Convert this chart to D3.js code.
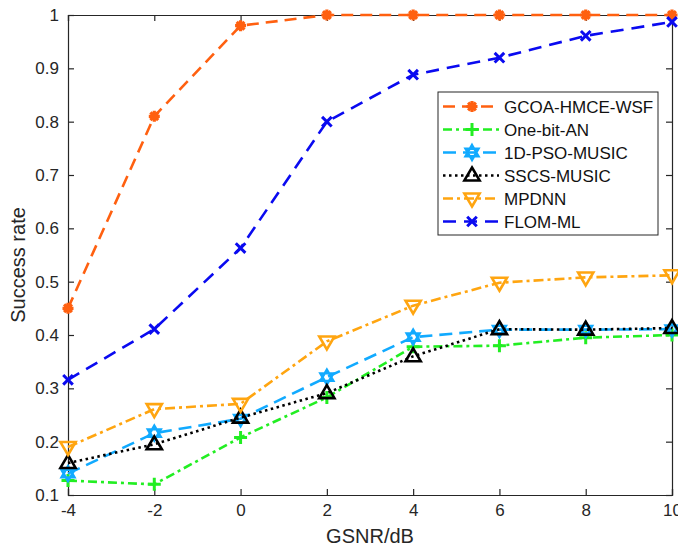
<!DOCTYPE html>
<html>
<head>
<meta charset="utf-8">
<script src="https://cdn.jsdelivr.net/npm/d3@7"></script>
<style>
  html, body { margin: 0; padding: 0; background: #fff; }
  svg { display: block; font-family: "Liberation Sans", Arial, sans-serif; }
</style>
</head>
<body>
<svg id="chart" width="678" height="548"></svg>
<script>
// GSNR sweep (dB) and success rate of each estimator
const gsnr = [-4, -2, 0, 2, 4, 6, 8, 10];
const gcoaHmceWsf = [0.45, 0.81, 0.98, 1.0, 1.0, 1.0, 1.0, 1.0];
const oneBitAn    = [0.127, 0.12, 0.208, 0.283, 0.378, 0.38, 0.395, 0.40];
const pso1dMusic  = [0.14, 0.216, 0.243, 0.321, 0.396, 0.41, 0.41, 0.411];
const sscsMusic   = [0.16, 0.195, 0.245, 0.291, 0.36, 0.411, 0.41, 0.413];
const mpdnn       = [0.19, 0.261, 0.271, 0.388, 0.455, 0.498, 0.508, 0.512];
const flomMl      = [0.316, 0.411, 0.563, 0.80, 0.888, 0.92, 0.961, 0.987];

const xTicks = [-4, -2, 0, 2, 4, 6, 8, 10];
const yTicks = [0.1, 0.2, 0.3, 0.4, 0.5, 0.6, 0.7, 0.8, 0.9, 1];
const xTickLabels = ["-4", "-2", "0", "2", "4", "6", "8", "10"];
const yTickLabels = ["0.1", "0.2", "0.3", "0.4", "0.5", "0.6", "0.7", "0.8", "0.9", "1"];

const seriesNames = ["GCOA-HMCE-WSF", "One-bit-AN", "1D-PSO-MUSIC", "SSCS-MUSIC", "MPDNN", "FLOM-ML"];
const seriesValues = [gcoaHmceWsf, oneBitAn, pso1dMusic, sscsMusic, mpdnn, flomMl];
const seriesColors = ["#ff6010", "#22ee22", "#11aaff", "#000000", "#ffa510", "#0a0af0"];
const seriesDash = ["12,7", "9,4,3,4", "13,7", "2.5,3.5", "10,4,3,4", "13,8"];
const seriesMarker = ["asterisk", "plus", "hexagram", "triUp", "triDown", "cross"];

const svg = d3.select("#chart");
const plotLeft = 68, plotRight = 672, plotTop = 15, plotBottom = 495;

const x = d3.scaleLinear().domain([-4, 10]).range([plotLeft, plotRight]);
const y = d3.scaleLinear().domain([0.1, 1]).range([plotBottom, plotTop]);

const axisColor = "#262626";
const g = svg.append("g");

// Axes with inward ticks on all four sides
const tickLen = 6;
const axB = d3.axisBottom(x).tickValues(xTicks).tickSize(-tickLen).tickPadding(9)
  .tickFormat((d, i) => xTickLabels[i]);
const axT = d3.axisTop(x).tickValues(xTicks).tickSize(-tickLen).tickFormat("");
const axL = d3.axisLeft(y).tickValues(yTicks).tickSize(-tickLen).tickPadding(9)
  .tickFormat((d, i) => yTickLabels[i]);
const axR = d3.axisRight(y).tickValues(yTicks).tickSize(-tickLen).tickFormat("");

function styleAxis(sel) {
  sel.select(".domain").attr("stroke", axisColor).attr("stroke-width", 1.2);
  sel.selectAll(".tick line").attr("stroke", axisColor).attr("stroke-width", 1.2);
  sel.selectAll(".tick text").attr("fill", axisColor).style("font-size", "17px")
    .style("font-family", "'Liberation Sans', Arial, sans-serif");
}
g.append("g").attr("transform", `translate(0,${plotBottom})`).call(axB).call(styleAxis);
g.append("g").attr("transform", `translate(0,${plotTop})`).call(axT).call(styleAxis);
g.append("g").attr("transform", `translate(${plotLeft},0)`).call(axL).call(styleAxis);
g.append("g").attr("transform", `translate(${plotRight},0)`).call(axR).call(styleAxis);

// Axis titles
svg.append("text").attr("x", (plotLeft + plotRight) / 2).attr("y", 543)
  .attr("text-anchor", "middle").attr("fill", axisColor).style("font-size", "20px").text("GSNR/dB");
svg.append("text").attr("transform", `translate(25,${(plotTop + plotBottom) / 2 + 10}) rotate(-90)`)
  .attr("text-anchor", "middle").attr("fill", axisColor).style("font-size", "20px").text("Success rate");

// Marker shapes, centred on the origin
function markerPath(type) {
  const p = d3.path();
  if (type === "asterisk") {
    const r = 5.5;
    for (let k = 0; k < 4; k++) {
      const a = k * Math.PI / 4;
      p.moveTo(-r * Math.cos(a), -r * Math.sin(a));
      p.lineTo(r * Math.cos(a), r * Math.sin(a));
    }
  } else if (type === "plus") {
    const r = 6.5;
    p.moveTo(-r, 0); p.lineTo(r, 0); p.moveTo(0, -r); p.lineTo(0, r);
  } else if (type === "cross") {
    const r = 4.8;
    p.moveTo(-r, -r); p.lineTo(r, r); p.moveTo(-r, r); p.lineTo(r, -r);
  } else if (type === "hexagram") {
    const r = 7.5;
    for (let t = 0; t < 2; t++) {
      for (let k = 0; k < 3; k++) {
        const a = -Math.PI / 2 + t * Math.PI + k * 2 * Math.PI / 3;
        if (k === 0) p.moveTo(r * Math.cos(a), r * Math.sin(a));
        else p.lineTo(r * Math.cos(a), r * Math.sin(a));
      }
      p.closePath();
    }
  } else if (type === "triUp") {
    const r = 8;
    p.moveTo(0, -r); p.lineTo(r * 0.95, r * 0.62); p.lineTo(-r * 0.95, r * 0.62); p.closePath();
  } else if (type === "triDown") {
    const r = 8;
    p.moveTo(0, r); p.lineTo(r * 0.95, -r * 0.62); p.lineTo(-r * 0.95, -r * 0.62); p.closePath();
  }
  return p.toString();
}
function drawMarker(sel, type, color) {
  const path = sel.append("path").attr("d", markerPath(type)).attr("stroke", color)
    .attr("stroke-linejoin", "miter").attr("fill", "none");
  if (type === "asterisk") {
    path.attr("stroke-width", 3.2);
    sel.append("circle").attr("r", 3.6).attr("fill", color);
  } else if (type === "triUp" || type === "triDown") {
    path.attr("stroke-width", 2.6);
  } else if (type === "hexagram") {
    path.attr("stroke-width", 2.4);
  } else {
    path.attr("stroke-width", 3);
  }
}

const line = d3.line().x((d, i) => x(gsnr[i])).y(d => y(d));

const plot = svg.append("g");
seriesValues.forEach((vals, s) => {
  plot.append("path").datum(vals).attr("d", line)
    .attr("fill", "none").attr("stroke", seriesColors[s]).attr("stroke-width", 2.6)
    .attr("stroke-dasharray", seriesDash[s]).attr("stroke-linejoin", "round");
  plot.selectAll(null).data(vals).enter().append("g")
    .attr("transform", (d, i) => `translate(${x(gsnr[i])},${y(d)})`)
    .each(function () { drawMarker(d3.select(this), seriesMarker[s], seriesColors[s]); });
});

// Legend
const lg = svg.append("g").attr("transform", "translate(438,92)");
lg.append("rect").attr("width", 220).attr("height", 143)
  .attr("fill", "#fff").attr("stroke", axisColor).attr("stroke-width", 1);
seriesNames.forEach((name, s) => {
  const cy = 14.5 + s * 23;
  const item = lg.append("g").attr("transform", `translate(0,${cy})`);
  item.append("line").attr("x1", 5).attr("x2", 61).attr("y1", 0).attr("y2", 0)
    .attr("stroke", seriesColors[s]).attr("stroke-width", 2.6).attr("stroke-dasharray", seriesDash[s]);
  const m = item.append("g").attr("transform", "translate(34,0)");
  drawMarker(m, seriesMarker[s], seriesColors[s]);
  item.append("text").attr("x", 66).attr("y", 6.5).attr("fill", "#111")
    .style("font-size", "17px").text(name);
});
</script>
</body>
</html>
